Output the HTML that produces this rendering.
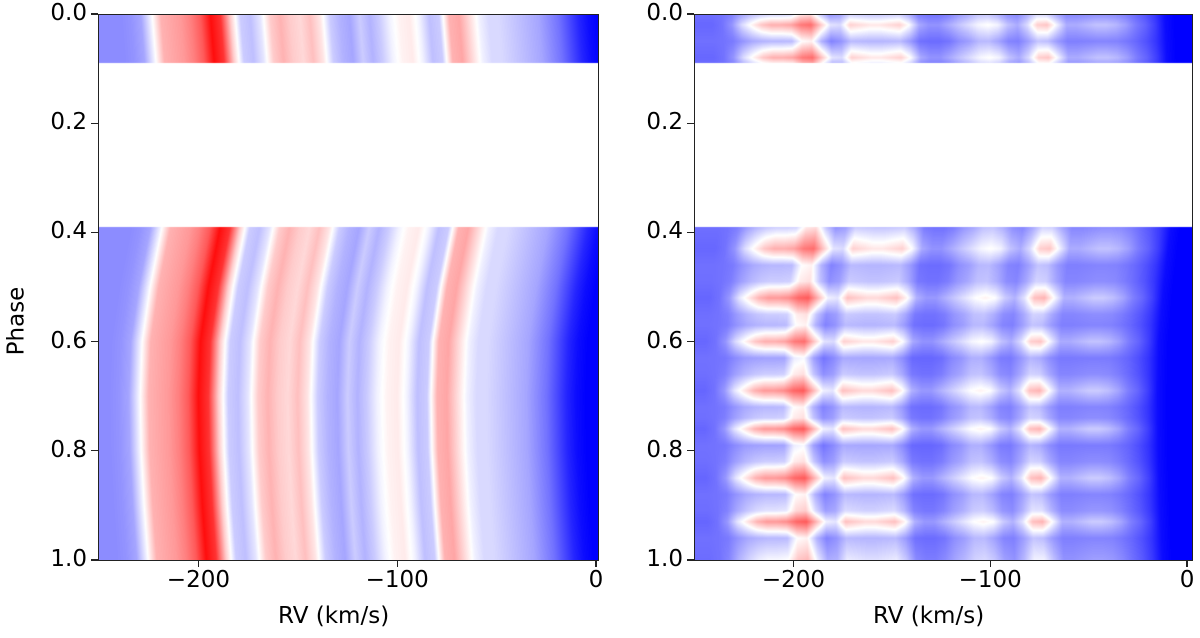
<!DOCTYPE html>
<html><head><meta charset="utf-8"><style>
body{margin:0;background:#fff;width:1200px;height:638px;overflow:hidden;position:relative;font-family:"DejaVu Sans","Liberation Sans",sans-serif;}
canvas{position:absolute;}
.frame{position:absolute;border:1.3px solid #222;box-sizing:border-box;}
.t{position:absolute;font-size:23px;color:#000;white-space:nowrap;}
.tk{position:absolute;background:#222;}
</style></head><body>
<canvas id="c1" width="499" height="546" style="left:99px;top:14px"></canvas>
<canvas id="c2" width="497" height="546" style="left:695px;top:14px"></canvas>
<div class="frame" style="left:98px;top:14px;width:501px;height:547px"></div>
<div class="frame" style="left:694px;top:14px;width:499px;height:547px"></div>
<div class="t" style="left:-18px;top:308px;transform:rotate(-90deg)">Phase</div>
<div class="t" style="left:278px;top:603px">RV (km/s)</div>
<div class="t" style="left:873px;top:603px">RV (km/s)</div>
<div id="ticks"></div>
<script>
// ---- data ----
const rvGrid=[-250,-245,-240,-235,-230,-225,-220,-215,-210,-205,-200,-195,-190,-185,-180,-175,-170,-165,-160,-155,-150,-145,-140,-135,-130,-125,-120,-115,-110,-105,-100,-95,-90,-85,-80,-75,-70,-65,-60,-55,-50,-45,-40,-35,-30,-25,-20,-15,-10,-5,0];
const leftProfile=[-0.45,-0.45,-0.42,-0.35,-0.05,0.3,0.35,0.4,0.5,0.65,0.95,0.8,0.2,-0.2,-0.25,-0.1,0.2,0.3,0.2,0.15,0.25,0.1,-0.2,-0.3,-0.35,-0.2,-0.3,-0.2,-0.05,0.05,0.08,-0.05,-0.25,-0.2,0.3,0.35,0.15,-0.05,-0.15,-0.15,-0.2,-0.25,-0.3,-0.35,-0.45,-0.55,-0.7,-0.85,-0.95,-1,-1];
const rightBright=[-0.6,-0.6,-0.55,-0.4,-0.1,0.1,0.3,0.4,0.4,0.45,0.6,0.65,0.3,-0.05,-0.1,0.25,0.2,0.15,0.15,0.2,0.25,0.05,-0.3,-0.4,-0.4,-0.3,-0.2,-0.1,0.0,0.05,0.0,-0.2,-0.3,-0.1,0.25,0.3,0.0,-0.3,-0.3,-0.25,-0.2,-0.2,-0.25,-0.35,-0.5,-0.6,-0.75,-0.95,-1,-1,-1];
const rightDark=[-0.55,-0.55,-0.55,-0.55,-0.5,-0.45,-0.45,-0.45,-0.45,-0.45,-0.15,-0.1,-0.45,-0.6,-0.5,-0.4,-0.4,-0.4,-0.4,-0.4,-0.4,-0.5,-0.62,-0.62,-0.62,-0.6,-0.5,-0.45,-0.35,-0.35,-0.45,-0.55,-0.55,-0.45,-0.35,-0.4,-0.5,-0.55,-0.55,-0.55,-0.55,-0.55,-0.55,-0.58,-0.62,-0.7,-0.8,-0.95,-1,-1,-1];
const shiftPhase=[0,0.09,0.39,0.5,0.6,0.7,0.8,0.9,1.0];
const shiftKms=[6,8,11,5,1,0,0.5,2,4];
const rowPhase=[0,0.02,0.05,0.08,0.09,0.39,0.41,0.43,0.46,0.49,0.52,0.55,0.57,0.6,0.63,0.66,0.69,0.72,0.74,0.76,0.79,0.82,0.85,0.88,0.91,0.93,0.96,1.0];
const rowWeight=[0.3,0.9,0.2,0.9,0.6,0.3,0.6,0.9,0.2,0.3,1,0.3,0.2,0.9,0.1,0.3,1,0.2,0.3,1,0.1,0.3,1,0.2,0.4,1,0.2,0.5];
const gaps=[[0.09,0.39]];
const xTicks=[-200,-100,0];
const xTickLabels=["\u2212200","\u2212100","0"];
const yTicks=[0,0.2,0.4,0.6,0.8,1.0];
const yTickLabels=["0.0","0.2","0.4","0.6","0.8","1.0"];
// ---- rendering ----
function interp(xs,ys,x){if(x<=xs[0])return ys[0];for(let i=1;i<xs.length;i++){if(x<=xs[i]){const f=(x-xs[i-1])/(xs[i]-xs[i-1]);return ys[i-1]+f*(ys[i]-ys[i-1]);}}return ys[ys.length-1];}
function bwr(v){v=Math.max(-1,Math.min(1,v));if(v<0){const k=Math.round(255*(1+v));return [k,k,255];}const k=Math.round(255*(1-v));return [255,k,k];}
function inGap(p){return gaps.some(g=>p>g[0]&&p<g[1]);}
function draw(id,xmin,xmax,valFn){
 const c=document.getElementById(id),ctx=c.getContext('2d'),W=c.width,Hh=c.height;
 const img=ctx.createImageData(W,Hh);
 for(let y=0;y<Hh;y++){const p=(y+0.5)/Hh;
  for(let x=0;x<W;x++){const i=(y*W+x)*4;
   if(inGap(p)){img.data[i]=img.data[i+1]=img.data[i+2]=255;img.data[i+3]=255;continue;}
   const rv=xmin+(x+0.5)/W*(xmax-xmin);
   const col=bwr(valFn(rv,p));img.data[i]=col[0];img.data[i+1]=col[1];img.data[i+2]=col[2];img.data[i+3]=255;}}
 ctx.putImageData(img,0,0);}
draw('c1',-250,1,(rv,p)=>{const s=interp(shiftPhase,shiftKms,p);return interp(rvGrid,leftProfile,rv-s);});
draw('c2',-250,2.5,(rv,p)=>{const s=interp(shiftPhase,shiftKms,p);const r=rv-s*0.6;const w=interp(rowPhase,rowWeight,p);const d=interp(rvGrid,rightDark,r),b=interp(rvGrid,rightBright,r);return d+w*(b-d);});
// ticks
const T=document.getElementById('ticks');
const panels=[{name:'left',x0:99,w:499,xmin:-250,xmax:1},{name:'right',x0:695,w:497,xmin:-250,xmax:2.5}];
const axTop=14,axH=546;
panels.forEach(P=>{
 xTicks.forEach((v,i)=>{const x=P.x0+(v-P.xmin)/(P.xmax-P.xmin)*P.w;
  const m=document.createElement('div');m.className='tk';m.style.cssText=`left:${x-0.6}px;top:${axTop+axH}px;width:1.3px;height:7px`;
  
  T.appendChild(m);
  const l=document.createElement('div');l.className='t';l.textContent=xTickLabels[i];l.style.left=x+'px';l.style.top='567px';l.style.transform='translateX(-50%)';
  
  T.appendChild(l);});
 yTicks.forEach((v,i)=>{const y=axTop+v*axH;
  const m=document.createElement('div');m.className='tk';m.style.cssText=`left:${P.x0-8}px;top:${y-0.6}px;width:7px;height:1.3px`;
  
  T.appendChild(m);
  const l=document.createElement('div');l.className='t';l.textContent=yTickLabels[i];l.style.left=(P.x0-12)+'px';l.style.top=(y-14)+'px';l.style.transform='translateX(-100%)';
  
  T.appendChild(l);});
});
</script>
</body></html>
